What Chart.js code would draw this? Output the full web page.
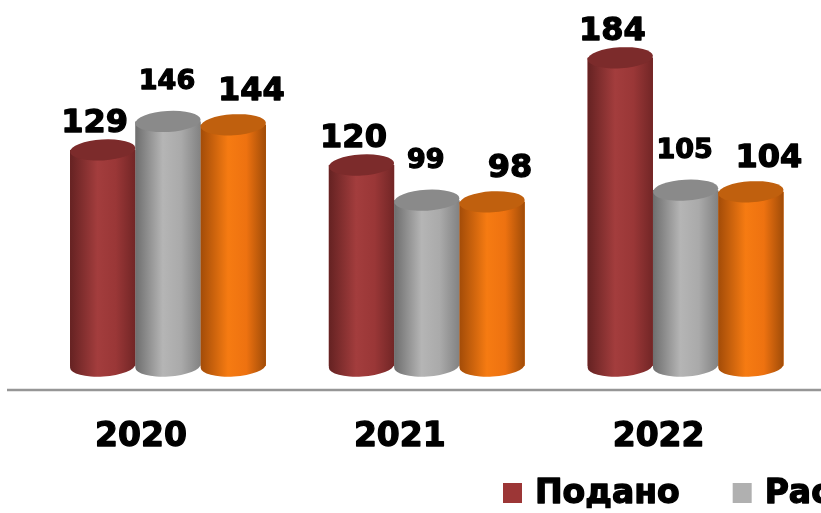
<!DOCTYPE html>
<html>
<head>
<meta charset="utf-8">
<script src="https://cdn.jsdelivr.net/npm/chart.js@4.4.0/dist/chart.umd.min.js"></script>
<style>
html,body{margin:0;padding:0;background:#fff;overflow:hidden;}
#wrap{width:821px;height:513px;position:relative;}
</style>
</head>
<body>
<div id="wrap"><canvas id="c" width="821" height="513"></canvas></div>
<script>
const categories = ['2020', '2021', '2022'];
const seriesNames = ['Подано', 'Рассмотрено', 'Удовлетворено'];
const submitted = [129, 120, 184];
const reviewed = [146, 99, 105];
const satisfied = [144, 98, 104];

const FONT = '"DejaVu Sans", Verdana, sans-serif';
const styles = [
  {base:'#9c3636', stops:['#652222','#a33d3d','#9a3737','#722626'], cap:'#7c2b2b', label:{size:32, dx:-8, dy:26}},
  {base:'#b0b0b0', stops:['#6e6e6e','#b5b5b5','#aaaaaa','#828282'], cap:'#8a8a8a', label:{size:27, dx:-1, dy:39}},
  {base:'#f07410', stops:['#a34c08','#f67b12','#ee7210','#a04c08'], cap:'#c0600e', label:{size:32, dx:18, dy:33}}
];
const CAP_RY = 10.5, TILT = -0.06;

function boldText(ctx, txt, x, y) {
  ctx.lineWidth = 1.3;
  ctx.strokeStyle = '#000';
  ctx.lineJoin = 'round';
  ctx.strokeText(txt, x, y);
  ctx.fillText(txt, x, y);
}

const cylinderPlugin = {
  id: 'cylinder',
  afterDatasetsDraw(chart) {
    const ctx = chart.ctx;
    chart.data.datasets.forEach((ds, i) => {
      const meta = chart.getDatasetMeta(i);
      const st = styles[i];
      meta.data.forEach(el => {
        const p = el.getProps(['x','y','base','width'], true);
        const l = p.x - p.width/2, r = p.x + p.width/2, rx = p.width/2;
        const g = ctx.createLinearGradient(l, 0, r, 0);
        g.addColorStop(0, st.stops[0]);
        g.addColorStop(0.42, st.stops[1]);
        g.addColorStop(0.7, st.stops[2]);
        g.addColorStop(1, st.stops[3]);
        ctx.save();
        ctx.beginPath();
        ctx.moveTo(r, p.y);
        ctx.lineTo(l, p.y);
        ctx.lineTo(l, p.base);
        ctx.ellipse(p.x, p.base, rx, CAP_RY, TILT, Math.PI, 0, true);
        ctx.closePath();
        ctx.fillStyle = g;
        ctx.fill();
        ctx.beginPath();
        ctx.ellipse(p.x, p.y, rx, CAP_RY, TILT, 0, Math.PI*2);
        ctx.fillStyle = st.cap;
        ctx.fill();
        ctx.restore();
      });
    });
    chart.data.datasets.forEach((ds, i) => {
      const meta = chart.getDatasetMeta(i);
      const st = styles[i];
      meta.data.forEach((el, j) => {
        const p = el.getProps(['x','y'], true);
        ctx.save();
        ctx.font = 'bold ' + st.label.size + 'px ' + FONT;
        ctx.fillStyle = '#000';
        ctx.textAlign = 'center';
        ctx.textBaseline = 'middle';
        boldText(ctx, String(ds.data[j]), p.x + st.label.dx, p.y - st.label.dy);
        ctx.restore();
      });
    });
    const ys = chart.scales.y, xs = chart.scales.x;
    const floorY = ys.getPixelForValue(0) + 24;
    ctx.save();
    ctx.strokeStyle = '#969696';
    ctx.lineWidth = 2.5;
    ctx.beginPath();
    ctx.moveTo(7, floorY);
    ctx.lineTo(chart.width, floorY);
    ctx.stroke();
    ctx.font = 'bold 33px ' + FONT;
    ctx.fillStyle = '#000';
    ctx.textAlign = 'center';
    ctx.textBaseline = 'middle';
    chart.data.labels.forEach((lab, i) => {
      boldText(ctx, lab, xs.getPixelForValue(i) - 27, floorY + 47);
    });
    ctx.font = 'bold 33px ' + FONT;
    ctx.textAlign = 'left';
    let lx = 503;
    const ly = 493;
    chart.data.datasets.forEach((ds, i) => {
      ctx.fillStyle = styles[i].base;
      ctx.fillRect(lx, ly - 10, 19, 20);
      ctx.fillStyle = '#000';
      boldText(ctx, ds.label, lx + 32, ly + 1);
      lx += 32 + ctx.measureText(ds.label).width + 53;
    });
    ctx.restore();
  }
};

const seriesValues = [submitted, reviewed, satisfied];
new Chart(document.getElementById('c'), {
  type: 'bar',
  data: {
    labels: categories,
    datasets: seriesValues.map((vals, i) => ({
      label: seriesNames[i],
      data: vals,
      backgroundColor: styles[i].base,
      borderWidth: 0,
      categoryPercentage: 0.757,
      barPercentage: 1.0
    }))
  },
  options: {
    responsive: false,
    animation: false,
    events: [],
    layout: {padding: {left: 38.6, right: 6, top: 31, bottom: 147}},
    plugins: {legend: {display: false}, tooltip: {enabled: false}},
    scales: {
      x: {display: false},
      y: {display: false, min: 0, max: 200}
    }
  },
  plugins: [cylinderPlugin]
});
</script>
</body>
</html>
